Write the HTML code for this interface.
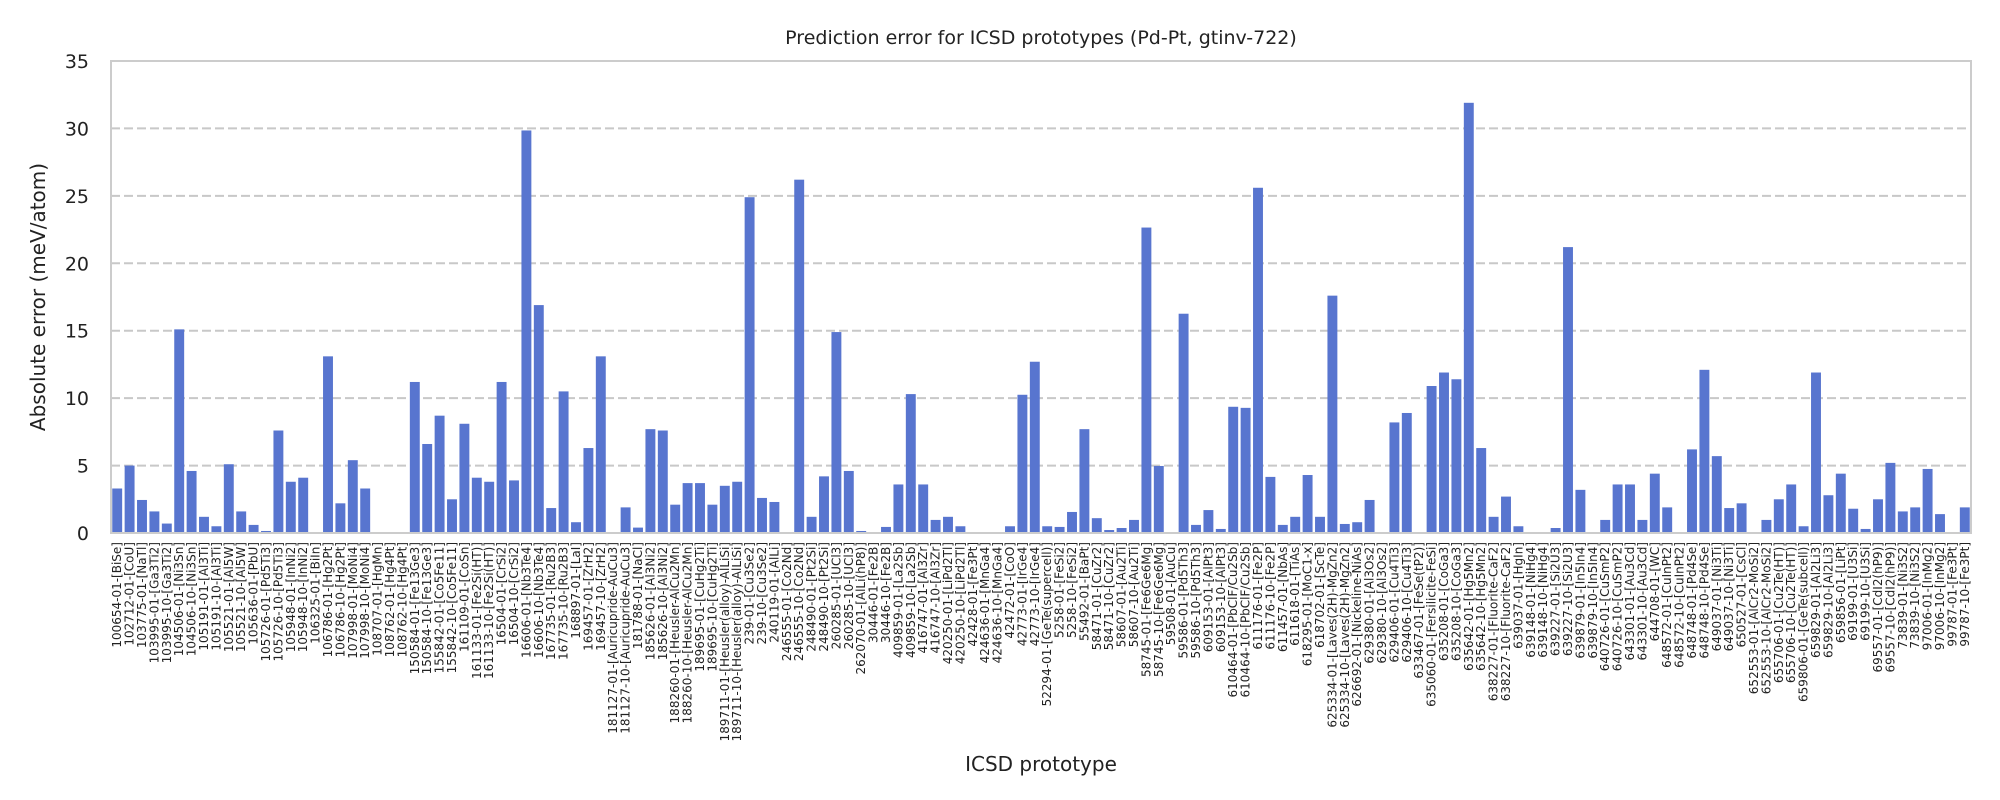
<!DOCTYPE html>
<html><head><meta charset="utf-8"><style>
html,body{margin:0;padding:0;background:#fff;}
svg{display:block;font-family:"DejaVu Sans","Liberation Sans",sans-serif;}
</style></head><body>
<svg id="chart" width="2000" height="800" viewBox="0 0 2000 800" xmlns="http://www.w3.org/2000/svg">
<rect x="0" y="0" width="2000" height="800" fill="#fff"/>
<text x="1041" y="44" text-anchor="middle" font-size="19" fill="#222">Prediction error for ICSD prototypes (Pd-Pt, gtinv-722)</text>
<text x="45" y="297" text-anchor="middle" font-size="20" fill="#222" transform="rotate(-90 45 297)">Absolute error (meV/atom)</text>
<text x="1041" y="771" text-anchor="middle" font-size="20" fill="#222">ICSD prototype</text>
<g id="grid"></g><g id="bars"></g><g id="yticks"></g><g id="xticks"></g>
<rect x="111" y="61" width="1860" height="472" fill="none" stroke="#cccccc" stroke-width="2"/>
</svg>
<script>
const categories = ["100654-01-[BiSe]","102712-01-[CoU]","103775-01-[NaTl]","103995-01-[Ga3Ti2]","103995-10-[Ga3Ti2]","104506-01-[Ni3Sn]","104506-10-[Ni3Sn]","105191-01-[Al3Ti]","105191-10-[Al3Ti]","105521-01-[Al5W]","105521-10-[Al5W]","105636-01-[PbU]","105726-01-[Pd5Ti3]","105726-10-[Pd5Ti3]","105948-01-[InNi2]","105948-10-[InNi2]","106325-01-[BiIn]","106786-01-[Hg2Pt]","106786-10-[Hg2Pt]","107998-01-[MoNi4]","107998-10-[MoNi4]","108707-01-[HgMn]","108762-01-[Hg4Pt]","108762-10-[Hg4Pt]","150584-01-[Fe13Ge3]","150584-10-[Fe13Ge3]","155842-01-[Co5Fe11]","155842-10-[Co5Fe11]","161109-01-[CoSn]","161133-01-[Fe2Si(HT)]","161133-10-[Fe2Si(HT)]","16504-01-[CrSi2]","16504-10-[CrSi2]","16606-01-[Nb3Te4]","16606-10-[Nb3Te4]","167735-01-[Ru2B3]","167735-10-[Ru2B3]","168897-01-[LaI]","169457-01-[ZrH2]","169457-10-[ZrH2]","181127-01-[Auricupride-AuCu3]","181127-10-[Auricupride-AuCu3]","181788-01-[NaCl]","185626-01-[Al3Ni2]","185626-10-[Al3Ni2]","188260-01-[Heusler-AlCu2Mn]","188260-10-[Heusler-AlCu2Mn]","189695-01-[CuHg2Ti]","189695-10-[CuHg2Ti]","189711-01-[Heusler(alloy)-AlLiSi]","189711-10-[Heusler(alloy)-AlLiSi]","239-01-[Cu3Se2]","239-10-[Cu3Se2]","240119-01-[AlLi]","246555-01-[Co2Nd]","246555-10-[Co2Nd]","248490-01-[Pt2Si]","248490-10-[Pt2Si]","260285-01-[UCl3]","260285-10-[UCl3]","262070-01-[AlLi(hP8)]","30446-01-[Fe2B]","30446-10-[Fe2B]","409859-01-[La2Sb]","409859-10-[La2Sb]","416747-01-[Al3Zr]","416747-10-[Al3Zr]","420250-01-[LiPd2Tl]","420250-10-[LiPd2Tl]","42428-01-[Fe3Pt]","424636-01-[MnGa4]","424636-10-[MnGa4]","42472-01-[CoO]","42773-01-[IrGe4]","42773-10-[IrGe4]","52294-01-[GeTe(supercell)]","5258-01-[FeSi2]","5258-10-[FeSi2]","55492-01-[BaPt]","58471-01-[CuZr2]","58471-10-[CuZr2]","58607-01-[Au2Ti]","58607-10-[Au2Ti]","58745-01-[Fe6Ge6Mg]","58745-10-[Fe6Ge6Mg]","59508-01-[AuCu]","59586-01-[Pd5Th3]","59586-10-[Pd5Th3]","609153-01-[AlPt3]","609153-10-[AlPt3]","610464-01-[PbClF/Cu2Sb]","610464-10-[PbClF/Cu2Sb]","611176-01-[Fe2P]","611176-10-[Fe2P]","611457-01-[NbAs]","611618-01-[TiAs]","618295-01-[MoC1-x]","618702-01-[ScTe]","625334-01-[Laves(2H)-MgZn2]","625334-10-[Laves(2H)-MgZn2]","626692-01-[Nickeline-NiAs]","629380-01-[Al3Os2]","629380-10-[Al3Os2]","629406-01-[Cu4Ti3]","629406-10-[Cu4Ti3]","633467-01-[FeSe(tP2)]","635060-01-[Fersilicite-FeSi]","635208-01-[CoGa3]","635208-10-[CoGa3]","635642-01-[Hg5Mn2]","635642-10-[Hg5Mn2]","638227-01-[Fluorite-CaF2]","638227-10-[Fluorite-CaF2]","639037-01-[HgIn]","639148-01-[NiHg4]","639148-10-[NiHg4]","639227-01-[Si2U3]","639227-10-[Si2U3]","639879-01-[In5In4]","639879-10-[In5In4]","640726-01-[CuSmP2]","640726-10-[CuSmP2]","643301-01-[Au3Cd]","643301-10-[Au3Cd]","644708-01-[WC]","648572-01-[CuInPt2]","648572-10-[CuInPt2]","648748-01-[Pd4Se]","648748-10-[Pd4Se]","649037-01-[Ni3Ti]","649037-10-[Ni3Ti]","650527-01-[CsCl]","652553-01-[AlCr2-MoSi2]","652553-10-[AlCr2-MoSi2]","655706-01-[Cu2Te(HT)]","655706-10-[Cu2Te(HT)]","659806-01-[GeTe(subcell)]","659829-01-[Al2Li3]","659829-10-[Al2Li3]","659856-01-[LiPt]","69199-01-[U3Si]","69199-10-[U3Si]","69557-01-[CdI2(hP9)]","69557-10-[CdI2(hP9)]","73839-01-[Ni3S2]","73839-10-[Ni3S2]","97006-01-[InMg2]","97006-10-[InMg2]","99787-01-[Fe3Pt]","99787-10-[Fe3Pt]"];
const errors = [3.3,5.0,2.45,1.6,0.7,15.1,4.6,1.2,0.5,5.1,1.6,0.6,0.15,7.6,3.8,4.1,0,13.1,2.2,5.4,3.3,0,0,0,11.2,6.6,8.7,2.5,8.1,4.1,3.8,11.2,3.9,29.85,16.9,1.85,10.5,0.8,6.3,13.1,0,1.9,0.4,7.7,7.6,2.1,3.7,3.7,2.1,3.5,3.8,24.9,2.6,2.3,0.07,26.2,1.2,4.2,14.9,4.6,0.15,0,0.45,3.6,10.3,3.6,0.97,1.2,0.5,0.07,0,0,0.5,10.25,12.7,0.5,0.45,1.56,7.7,1.1,0.22,0.37,0.97,22.65,4.97,0,16.26,0.6,1.7,0.3,9.36,9.28,25.6,4.16,0.6,1.2,4.3,1.2,17.6,0.67,0.8,2.45,0,8.2,8.9,0,10.9,11.9,11.4,31.9,6.3,1.2,2.7,0.5,0,0,0.37,21.2,3.2,0.07,0.97,3.6,3.6,0.97,4.4,1.9,0,6.2,12.1,5.7,1.85,2.2,0.07,0.97,2.5,3.6,0.5,11.9,2.8,4.4,1.8,0.3,2.5,5.2,1.6,1.9,4.75,1.4,0,1.9];
const yTicks = [0,5,10,15,20,25,30,35];

const NS = "http://www.w3.org/2000/svg";
const L = 111, R = 1971, T = 61, B = 533, YMAX = 35;
const band = (R - L) / categories.length;
const xPos = i => L + band * i;
const yPos = v => B - (v / YMAX) * (B - T);
function mk(tag, attrs, parent) { const e = document.createElementNS(NS, tag); for (const k in attrs) e.setAttribute(k, attrs[k]); parent.appendChild(e); return e; }

const grid = document.getElementById('grid'), yt = document.getElementById('yticks');
yTicks.forEach(t => {
  if (t > 0 && t < YMAX) {
    const g = mk('line', {x1: L, x2: R, y1: yPos(t), y2: yPos(t), stroke: '#c8c8c8', 'stroke-width': 2, 'stroke-dasharray': '9,4'}, grid);
    
    
  }
  const lb = mk('text', {x: 89, y: yPos(t) + 7, 'text-anchor': 'end', 'font-size': 19, fill: '#222'}, yt);
  lb.textContent = t;
  
  
});

const bars = document.getElementById('bars'), xt = document.getElementById('xticks');
categories.forEach((c, i) => {
  const v = errors[i], bw = band * 0.8;
  const r = mk('rect', {x: xPos(i) + band * 0.1, y: yPos(v), width: bw, height: B - yPos(v), fill: '#5875CF'}, bars);
  
  
  const cx = xPos(i) + band / 2 + 4, ty = 542;
  const t = mk('text', {x: cx, y: ty, 'text-anchor': 'end', 'font-size': 12, fill: '#222', transform: 'rotate(-90 ' + cx + ' ' + ty + ')'}, xt);
  t.textContent = c;
  
  
});
</script>
</body></html>
